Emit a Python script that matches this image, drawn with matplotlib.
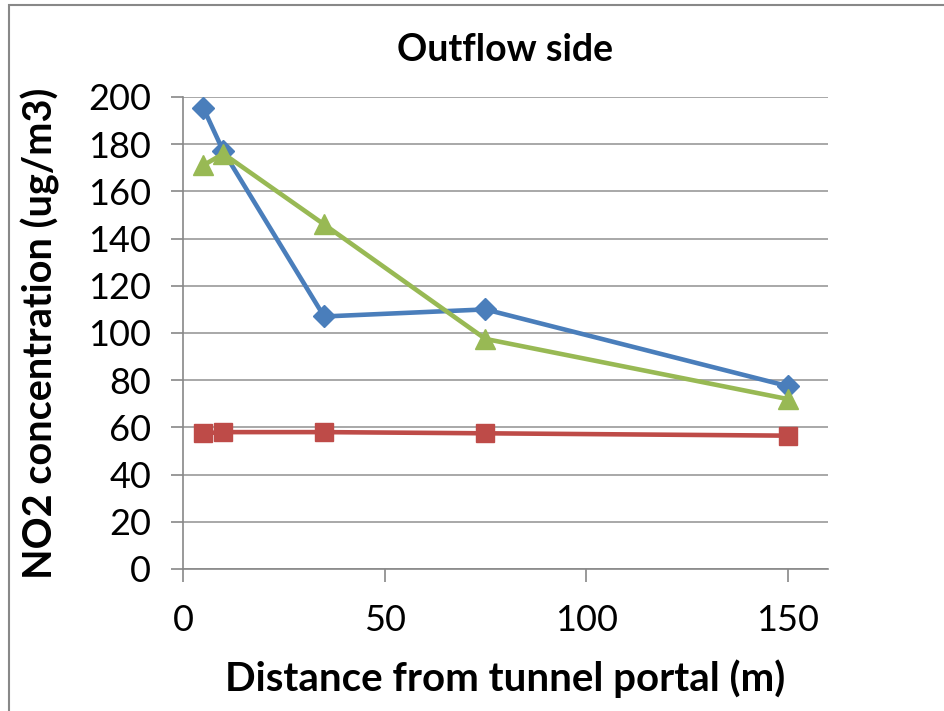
import matplotlib
matplotlib.use("Agg")
import matplotlib.pyplot as plt
from matplotlib.patches import Rectangle

plt.rcParams['font.family'] = ['Lato', 'DejaVu Sans']

distance = [5, 10, 35, 75, 150]
series_blue = [195.5, 177, 107, 110, 77.5]
series_red = [57.5, 58, 58, 57.5, 56.5]
series_green = [171, 176, 146, 97.5, 72]
xticks = [0, 50, 100, 150]
yticks = list(range(0, 201, 20))

fig = plt.figure(figsize=(9.45, 7.11), dpi=100)
fig.patches.append(Rectangle((9/945, -0.01), 1.0, 1 - 5/711 + 0.01, transform=fig.transFigure,
                             fill=False, edgecolor='#888888', linewidth=1.5))
ax = fig.add_axes([183/945, 1 - 569/711, (828-183)/945, (569-97)/711])

ax.plot(distance, series_blue, color='#4A7EBB', lw=3.3, marker='D', ms=11, zorder=3)
ax.plot(distance, series_red, color='#BE4B48', lw=3.3, marker='s', ms=13, zorder=3)
ax.plot(distance, series_green, color='#98B954', lw=3.3, marker='^', ms=14, zorder=3)

ax.set_xlim(0, 160)
ax.set_ylim(0, 200)
ax.set_xticks(xticks)
ax.set_yticks(yticks)
ax.grid(axis='y', color='#999999', lw=1.2)
ax.set_axisbelow(True)
for s in ['top', 'right']:
    ax.spines[s].set_visible(False)
for s in ['left', 'bottom']:
    ax.spines[s].set_color('#888888')
    ax.spines[s].set_linewidth(1.2)
ax.tick_params(axis='both', direction='out', length=9, width=1.2, color='#888888',
               labelsize=26)
ax.tick_params(axis='y', pad=14)
ax.tick_params(axis='x', pad=16)

ax.set_title('Outflow side', fontsize=27, fontweight='bold', pad=26)
ax.set_xlabel('Distance from tunnel portal (m)', fontsize=29, fontweight='bold', labelpad=16)
ax.set_ylabel('NO2 concentration (ug/m3)', fontsize=28.5, fontweight='bold', labelpad=20)

fig.savefig('out.png', dpi=100)
